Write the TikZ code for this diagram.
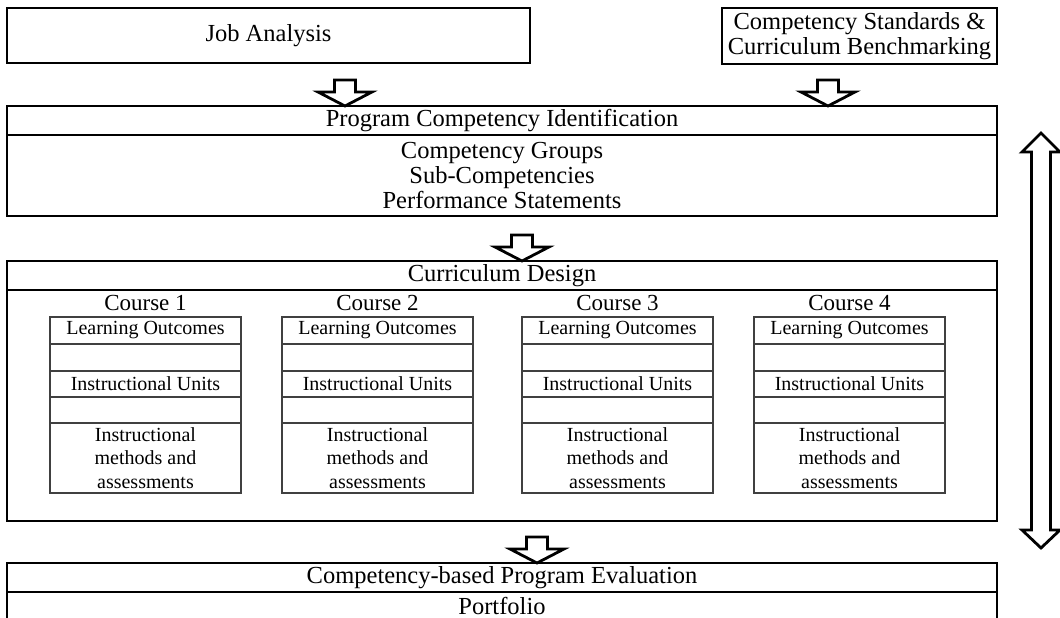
\documentclass[tikz,border=0pt]{standalone}
\usepackage{fontspec}
\setmainfont{Liberation Serif}
\usetikzlibrary{positioning}
\tikzset{
  bigbox/.style={draw, line width=2.8pt, inner sep=0pt, outer sep=0pt, anchor=north west,
    minimum width=990pt, font=\fontsize{24.5}{25}\selectfont, align=center},
  cbox/.style={draw=black!75, line width=1.2pt, inner sep=0pt, outer sep=0pt,
    minimum width=191pt, font=\fontsize{20}{23.5}\selectfont, align=center},
  arrline/.style={draw, line width=2.8pt, fill=white, line join=miter},
  downarr/.pic={\path[arrline] (-10.5,0) -- (10.5,0) -- (10.5,12) -- (27,12) -- (0,26)
    -- (-27,12) -- (-10.5,12) -- cycle;}
}
\begin{document}
\begin{tikzpicture}[x=1pt,y=-1pt]
  \useasboundingbox (0,0) rectangle (1060,618);

  % sources
  \node[bigbox, minimum width=523pt, minimum height=55pt] (job) at (7,8) {Job Analysis};
  \node[bigbox, minimum width=275pt, minimum height=56pt] (std) at (722,8)
    {Competency Standards \&\\Curriculum Benchmarking};

  % program competency identification
  \node[bigbox, minimum height=29pt] (pcihead) at (7,106) {Program Competency Identification};
  \node[bigbox, minimum height=81pt, below=0pt of pcihead] (pcibody)
    {Competency Groups\\Sub-Competencies\\Performance Statements};

  % curriculum design
  \node[bigbox, minimum height=29pt] (cdhead) at (7,261) {Curriculum Design};
  \node[bigbox, minimum height=231pt, below=0pt of cdhead] (cdbody) {};

  \foreach \cx [count=\i] in {50,282,522,754}{
    \node[font=\fontsize{23}{25}\selectfont] (cl\i) at (\cx+95.5,303) {Course \i};
    \node[cbox, minimum height=27pt, anchor=north west] (lo\i) at (\cx,317) {Learning Outcomes};
    \node[cbox, minimum height=27pt, below=0pt of lo\i] (ga\i) {};
    \node[cbox, minimum height=26pt, below=0pt of ga\i] (iu\i) {Instructional Units};
    \node[cbox, minimum height=26pt, below=0pt of iu\i] (gb\i) {};
    \node[cbox, minimum height=70pt, below=0pt of gb\i] (im\i) {Instructional\\methods and\\assessments};
  }

  % evaluation
  \node[bigbox, minimum height=29pt] (evhead) at (7,563) {Competency-based Program Evaluation};
  \node[bigbox, minimum height=28pt, below=0pt of evhead] (evbody) {Portfolio};

  % block arrows
  \pic at (345,80) {downarr};
  \pic at (828,80) {downarr};
  \pic at (522,235) {downarr};
  \pic at (537,537) {downarr};

  % feedback arrow
  \path[arrline] (1041,133) -- (1060,152) -- (1050.5,152) -- (1050.5,530) -- (1060,530)
    -- (1041,548) -- (1022,530) -- (1031.5,530) -- (1031.5,152) -- (1022,152) -- cycle;
\end{tikzpicture}
\end{document}
